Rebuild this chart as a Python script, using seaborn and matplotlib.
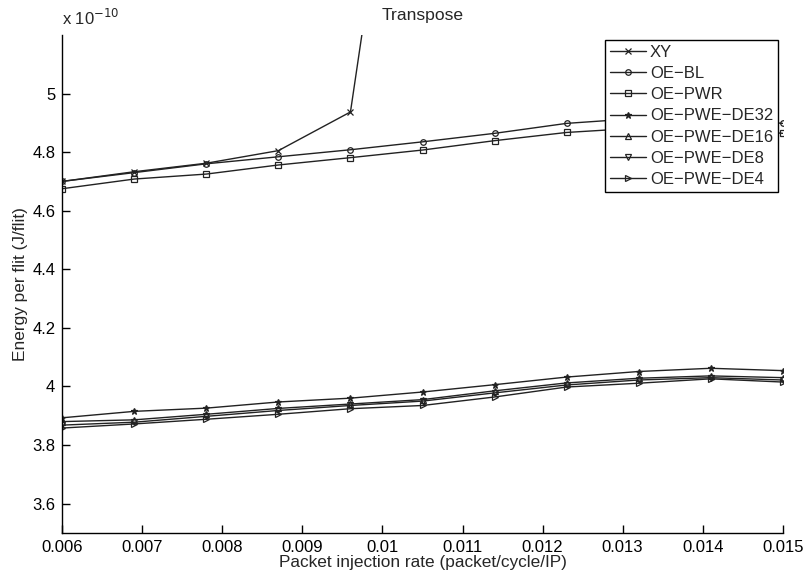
import numpy as np
import pandas as pd
import matplotlib
matplotlib.use("Agg")
import matplotlib.pyplot as plt
import matplotlib.ticker as mticker
import seaborn as sns

# packet injection rates
rate = [0.006, 0.0069, 0.0078, 0.0087, 0.0096, 0.0105, 0.0114, 0.0123, 0.0132, 0.0141, 0.015]
# XY saturates, only the first points stay on the chart
rate_xy = rate[:6]
xy = [4.700, 4.733, 4.762, 4.805, 4.937, 6.60]

# energy per flit, in units of 1e-10 J
oe_bl = [4.700, 4.730, 4.760, 4.784, 4.808, 4.835, 4.864, 4.898, 4.915, 4.920, 4.898]
oe_pwr = [4.675, 4.708, 4.725, 4.756, 4.781, 4.807, 4.839, 4.867, 4.882, 4.885, 4.864]
de32 = [3.893, 3.915, 3.926, 3.947, 3.960, 3.981, 4.006, 4.032, 4.051, 4.062, 4.054]
de16 = [3.880, 3.886, 3.905, 3.925, 3.940, 3.955, 3.985, 4.012, 4.028, 4.036, 4.030]
de8 = [3.868, 3.878, 3.898, 3.918, 3.935, 3.950, 3.978, 4.005, 4.022, 4.030, 4.022]
de4 = [3.858, 3.872, 3.888, 3.905, 3.924, 3.935, 3.964, 3.998, 4.011, 4.026, 4.015]

series = [
    ("XY", rate_xy, xy, "x"),
    ("OE\u2212BL", rate, oe_bl, "o"),
    ("OE\u2212PWR", rate, oe_pwr, "s"),
    ("OE\u2212PWE\u2212DE32", rate, de32, "*"),
    ("OE\u2212PWE\u2212DE16", rate, de16, "^"),
    ("OE\u2212PWE\u2212DE8", rate, de8, "v"),
    ("OE\u2212PWE\u2212DE4", rate, de4, ">"),
]

sns.set_style("ticks")
plt.rcParams["font.family"] = ["Liberation Sans", "DejaVu Sans"]

fig = plt.figure(figsize=(8.08, 5.78), dpi=100)
ax = fig.add_axes([0.0771, 0.078, 0.8916, 0.8616])

for name, xs, ys, mk in series:
    df = pd.DataFrame({"rate": xs, "energy": ys})
    filled = mk in ("x", "*")
    sns.lineplot(data=df, x="rate", y="energy", ax=ax, color="#222222",
                 linewidth=1.0, marker=mk, markersize=4 if mk != "*" else 5,
                 markerfacecolor="#222222" if filled else "none",
                 markeredgecolor="#222222", markeredgewidth=0.9,
                 label=name)

ax.set_xlim(0.006, 0.015)
ax.set_ylim(3.5, 5.2)
ax.xaxis.set_major_locator(mticker.MultipleLocator(0.001))
ax.yaxis.set_major_locator(mticker.FixedLocator([3.6, 3.8, 4.0, 4.2, 4.4, 4.6, 4.8, 5.0]))
ax.xaxis.set_major_formatter(mticker.FuncFormatter(lambda v, p: "%g" % round(v, 4)))
ax.yaxis.set_major_formatter(mticker.FuncFormatter(lambda v, p: "%g" % round(v, 2)))
ax.tick_params(direction="in", length=6, width=1, labelsize=12, colors="black", pad=5)

for s in ("top", "right"):
    ax.spines[s].set_visible(False)
for s in ("left", "bottom"):
    ax.spines[s].set_linewidth(1.0)
    ax.spines[s].set_color("black")

ax.set_xlabel("Packet injection rate (packet/cycle/IP)", fontsize=12.4, labelpad=0)
ax.set_ylabel("Energy per flit (J/flit)", fontsize=12.4, labelpad=3)
ax.set_title("Transpose", fontsize=12.6, pad=11)
ax.text(0.0, 1.014, "x 10$^{-10}$", transform=ax.transAxes, fontsize=12,
        ha="left", va="bottom")

leg = ax.legend(loc="upper right", bbox_to_anchor=(0.9935, 0.99), borderaxespad=0,
                fontsize=12, labelspacing=0.37, handlelength=2.2, handletextpad=0.2,
                borderpad=0.3, frameon=True, fancybox=False, framealpha=1)
leg.get_frame().set_edgecolor("black")
leg.get_frame().set_linewidth(1.0)

fig.savefig("out.png", dpi=100)
